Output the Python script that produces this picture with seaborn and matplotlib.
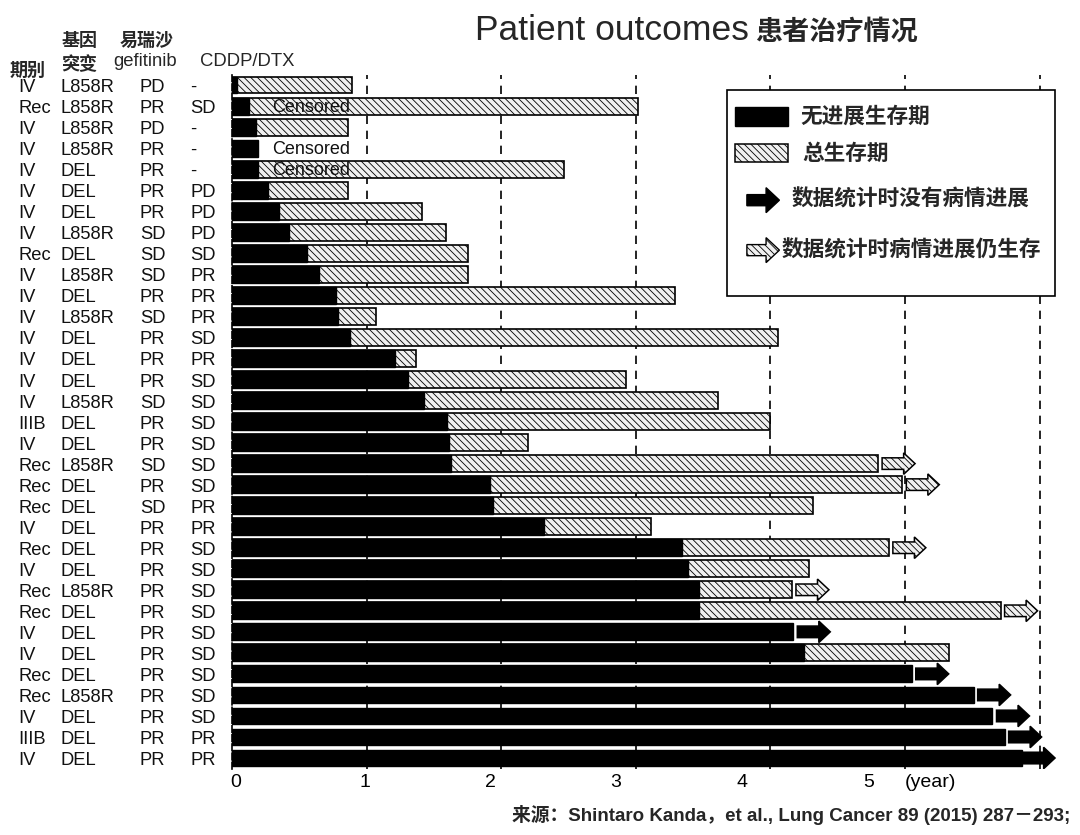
import numpy as np
import pandas as pd
import matplotlib
matplotlib.use("Agg")
import matplotlib.pyplot as plt
import seaborn as sns
from matplotlib.patches import FancyArrow, Rectangle
from matplotlib.transforms import blended_transform_factory

# ----------------------------------------------
# Data (years)
# ----------------------------------------------
STAGE = ["IV", "Rec", "IV", "IV", "IV", "IV", "IV", "IV", "Rec", "IV", "IV",
         "IV", "IV", "IV", "IV", "IV", "IIIB", "IV", "Rec", "Rec", "Rec", "IV",
         "Rec", "IV", "Rec", "Rec", "IV", "IV", "Rec", "Rec", "IV", "IIIB", "IV"]
GENE = ["L858R", "L858R", "L858R", "L858R", "DEL", "DEL", "DEL", "L858R", "DEL",
        "L858R", "DEL", "L858R", "DEL", "DEL", "DEL", "L858R", "DEL", "DEL",
        "L858R", "DEL", "DEL", "DEL", "DEL", "DEL", "L858R", "DEL", "DEL", "DEL",
        "DEL", "L858R", "DEL", "DEL", "DEL"]
GEFITINIB = ["PD", "PR", "PD", "PR", "PR", "PR", "PR", "SD", "SD", "SD", "PR",
             "SD", "PR", "PR", "PR", "SD", "PR", "PR", "SD", "PR", "SD", "PR",
             "PR", "PR", "PR", "PR", "PR", "PR", "PR", "PR", "PR", "PR", "PR"]
CHEMO = ["-", "SD", "-", "-", "-", "PD", "PD", "PD", "SD", "PR", "PR", "PR",
         "SD", "PR", "SD", "SD", "SD", "SD", "SD", "SD", "PR", "PR", "SD", "SD",
         "SD", "SD", "SD", "SD", "SD", "SD", "SD", "PR", "PR"]

PFS = [0.04, 0.13, 0.18, 0.19, 0.19, 0.27, 0.35, 0.42, 0.56, 0.65, 0.77,
       0.79, 0.88, 1.21, 1.31, 1.43, 1.60, 1.61, 1.63, 1.92, 1.94, 2.32,
       3.34, 3.39, 3.47, 3.47, 4.17, 4.25, 5.05, 5.51, 5.65, 5.74, 5.87]
OS = [0.89, 3.02, 0.86, np.nan, 2.47, 0.86, 1.41, 1.59, 1.75, 1.75, 3.29,
      1.07, 4.06, 1.37, 2.93, 3.61, 4.00, 2.20, 4.80, 4.98, 4.32, 3.11,
      4.88, 4.29, 4.16, 5.71, np.nan, 5.33, np.nan, np.nan, np.nan, np.nan, np.nan]
# arrow after bar: "os" = progressed but alive, "pfs" = no progression
ARROW = ["", "", "", "", "", "", "", "", "", "", "", "", "", "", "", "", "",
         "", "os", "os", "", "", "os", "", "os", "os", "pfs", "", "pfs", "pfs",
         "pfs", "pfs", "pfs"]
CENSORED = [1, 3, 4]  # row indices carrying the "Censored" note

TICK_POS = [0.03, 0.99, 1.92, 2.85, 3.79, 4.73, 5.19]
TICK_LABELS = ["0", "1", "2", "3", "4", "5", "(year)"]

HATCH_FILL = "#f0f0f0"
HATCH = "\\\\\\\\\\"

sns.set_theme(style="white")
plt.rcParams["font.family"] = ["Liberation Sans", "Noto Sans CJK SC", "DejaVu Sans"]
plt.rcParams["hatch.linewidth"] = 0.6
CJK = ["Noto Sans CJK SC", "DejaVu Sans"]

n = len(PFS)
df = pd.DataFrame({"patient": [str(i) for i in range(n)], "pfs": PFS, "os": OS})

fig = plt.figure(figsize=(10.8, 8.35), dpi=100)
ax = fig.add_axes([0.2148, 0.0796, 0.7727, 0.8311])

sns.barplot(data=df, x="os", y="patient", order=list(df["patient"]), orient="y",
            color=HATCH_FILL, edgecolor="black", linewidth=1.2, hatch=HATCH,
            saturation=1, errorbar=None, width=0.8, ax=ax)
sns.barplot(data=df, x="pfs", y="patient", order=list(df["patient"]), orient="y",
            color="black", edgecolor="black", linewidth=1.0,
            saturation=1, errorbar=None, width=0.8, ax=ax)

# arrows after bars
for i, kind in enumerate(ARROW):
    if not kind:
        continue
    end = OS[i] if kind == "os" else PFS[i]
    start = end + 0.03 if i < n - 1 else end
    fc = HATCH_FILL if kind == "os" else "black"
    arr = FancyArrow(start, i, 0.245, 0, width=0.55, head_width=1.02,
                     head_length=0.085, length_includes_head=True,
                     facecolor=fc, edgecolor="black", linewidth=1.1,
                     hatch=HATCH if kind == "os" else None, zorder=3)
    ax.add_patch(arr)

for i in CENSORED:
    ax.text(0.30, i + 0.08, "Censored", va="center", ha="left",
            fontsize=13, color="#111111", zorder=4)

# dashed year lines
for yr in range(1, 7):
    ax.axvline(yr, color="black", lw=1.2, ls=(0, (5, 4)), zorder=0.5)

ax.set_xlim(0, 6.2)
ax.set_ylim(n - 0.5, -0.5)
ax.set_xlabel("")
ax.set_ylabel("")
ax.set_yticks([])
ax.set_xticks(TICK_POS, TICK_LABELS)
ax.tick_params(axis="x", length=0, pad=4, labelsize=14, colors="black")
for side in ["top", "right", "bottom"]:
    ax.spines[side].set_visible(False)
ax.spines["left"].set_linestyle((0, (4, 1.5)))
ax.spines["left"].set_color("black")
ax.spines["left"].set_linewidth(1.2)

# table of patient characteristics on the left
tr = blended_transform_factory(fig.transFigure, ax.transData)
cols = [(0.0167, STAGE), (0.0556, GENE), (0.1296, GEFITINIB), (0.176, CHEMO)]
for x, vals in cols:
    for i, v in enumerate(vals):
        ax.text(x, i + 0.12, v, transform=tr, va="center", ha="left",
                fontsize=13.2, color="#111111", clip_on=False)

fig.text(0.009, 0.916, "期别", family=CJK, fontweight="bold", fontsize=13, va="center")
fig.text(0.057, 0.952, "基因", family=CJK, fontweight="bold", fontsize=13, va="center")
fig.text(0.057, 0.923, "突变", family=CJK, fontweight="bold", fontsize=13, va="center")
fig.text(0.111, 0.952, "易瑞沙", family=CJK, fontweight="bold", fontsize=13, va="center")
fig.text(0.105, 0.926, "gefitinib", fontsize=13.3, va="center")
fig.text(0.185, 0.926, "CDDP/DTX", fontsize=13.3, va="center")

# title
fig.text(0.44, 0.952, "Patient outcomes", fontsize=25.5, va="baseline")
fig.text(0.699, 0.952, "患者治疗情况", family=CJK, fontweight="bold",
         fontsize=19.5, va="baseline")

# legend box
ax.add_patch(Rectangle((0.593, 0.681), 0.393, 0.297, transform=ax.transAxes,
                       facecolor="white", edgecolor="black", lw=1.2, zorder=5))
ax.add_patch(Rectangle((0.603, 0.926), 0.0635, 0.0274, transform=ax.transAxes,
                       facecolor="black", edgecolor="black", lw=1, zorder=6))
ax.add_patch(Rectangle((0.603, 0.874), 0.0635, 0.026, transform=ax.transAxes,
                       facecolor=HATCH_FILL, edgecolor="black", lw=1.1,
                       hatch=HATCH, zorder=6))
ax.add_patch(FancyArrow(0.617, 0.819, 0.039, 0, width=0.016, head_width=0.036,
                        head_length=0.016, length_includes_head=True,
                        transform=ax.transAxes, facecolor="black",
                        edgecolor="black", lw=1, zorder=6))
ax.add_patch(FancyArrow(0.617, 0.747, 0.039, 0, width=0.016, head_width=0.036,
                        head_length=0.016, length_includes_head=True,
                        transform=ax.transAxes, facecolor=HATCH_FILL,
                        edgecolor="black", lw=1, hatch=HATCH, zorder=6))
legend_txt = [(0.681, 0.940, "无进展生存期"), (0.684, 0.887, "总生存期"),
              (0.671, 0.820, "数据统计时没有病情进展"),
              (0.659, 0.747, "数据统计时病情进展仍生存")]
for x, y, s in legend_txt:
    ax.text(x, y, s, transform=ax.transAxes, family=CJK, fontweight="bold",
            fontsize=15.6, va="center", ha="left", zorder=7)

# source
fig.text(0.991, 0.024, "来源：Shintaro Kanda，et al., Lung Cancer 89 (2015) 287－293;",
         family=["Liberation Sans", "Noto Sans CJK SC"], fontweight="bold",
         fontsize=13.5, ha="right", va="center")

fig.savefig("out.png", dpi=100)
